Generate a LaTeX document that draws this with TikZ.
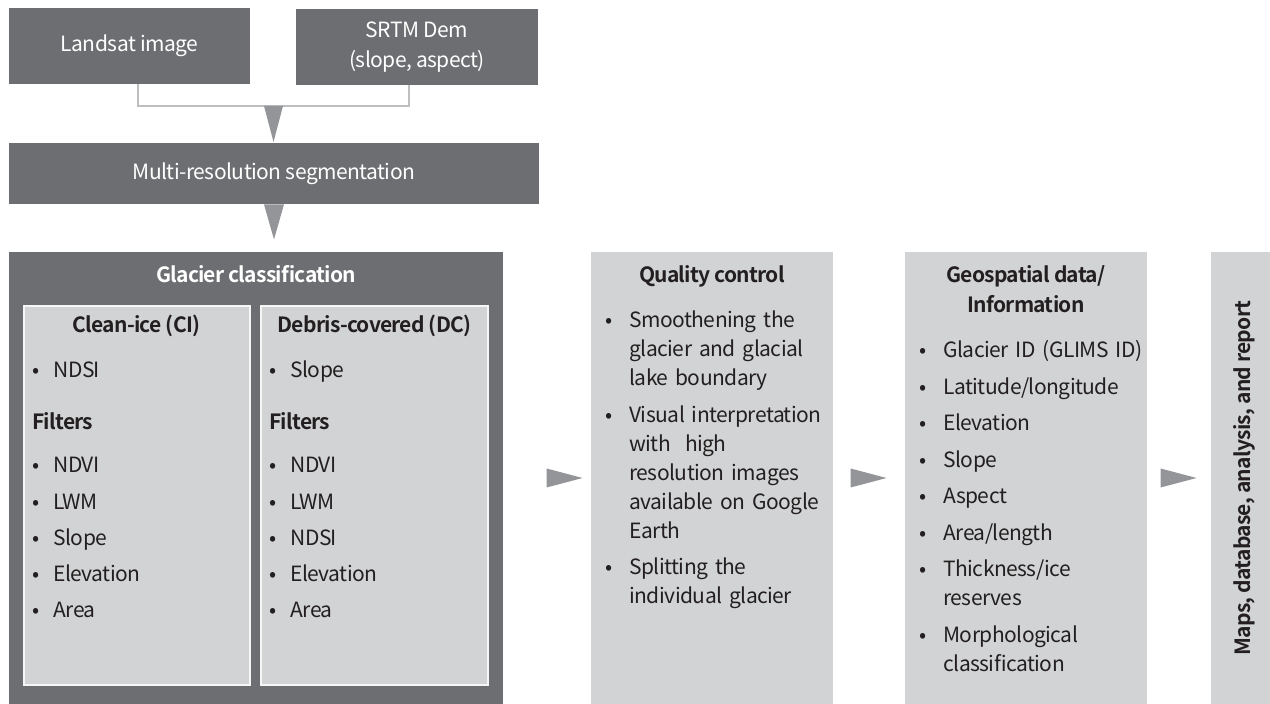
\documentclass[tikz,border=0pt]{standalone}
\usepackage{fontspec}
\setmainfont{Noto Sans CJK KR}[LetterSpace=-2.5, BoldFont={Noto Sans CJK KR Bold}, BoldFeatures={LetterSpace=-3.5}]
\usetikzlibrary{positioning,calc}

\definecolor{boxdark}{HTML}{6D6E71}
\definecolor{boxlight}{HTML}{D1D3D4}
\definecolor{tipgray}{HTML}{939598}
\definecolor{linkgray}{HTML}{BCBEC0}
\definecolor{inktext}{HTML}{231F20}

% bullet items with hanging indent
\newlength{\bulletwd}
\newlength{\itemgap}
\newcommand{\bfirst}[1]{\setlength{\parskip}{\itemgap}\hangindent=\bulletwd\hangafter=1\makebox[\bulletwd][l]{\textbullet}#1}
\newcommand{\bitem}[1]{\par\noindent\bfirst{#1}}
\newcommand{\listsetup}[1]{\setlength{\bulletwd}{#1}\setlength{\itemgap}{3.6pt}}

\begin{document}
\begin{tikzpicture}[x=0.5pt, y=-0.5pt, font=\fontsize{10.5}{14.5}\selectfont,
	darkbox/.style={fill=boxdark, text=white, inner sep=0pt, align=center},
	lightbox/.style={fill=boxlight, inner sep=0pt},
	subbox/.style={lightbox, draw=white!80!boxlight, line width=0.8pt},
	headtext/.style={font=\fontsize{10.5}{15}\selectfont\bfseries, anchor=base, inner sep=0pt, align=center, text=inktext},
	listtext/.style={anchor=base west, inner sep=0pt, text width=#1, align=left, text=inktext},
	tip/.style={fill=tipgray},
	bracket/.style={draw=linkgray, line width=1pt}]
	\useasboundingbox (0,0) rectangle (1270,704);

	% inputs
	\node[darkbox, minimum width=120.5pt, minimum height=38pt] (landsat) at (129.5,46) {Landsat image};
	\node[darkbox, minimum width=121pt, minimum height=38pt, font=\fontsize{10.5}{15}\selectfont] (srtm) at (417,47) {SRTM Dem\\(slope, aspect)};
	\node[darkbox, minimum width=265pt, minimum height=30.5pt] (segment) at (274,173.5) {Multi-resolution segmentation};

	\coordinate (join) at (273.5,106);
	\draw[bracket] ([xshift=4.25pt]landsat.south) |- (join) -| ([xshift=-4pt]srtm.south);
	\fill[tip] ([xshift=-4.75pt]join) -- ([xshift=4.75pt]join) -- ([yshift=-18pt]join) -- cycle;
	\fill[tip] ([xshift=-5pt]segment.south) -- ([xshift=5pt]segment.south) -- ([yshift=-17.5pt]segment.south) -- cycle;

	% classification
	\node[darkbox, minimum width=247pt, minimum height=226pt] (glacier) at (256,478) {};
	\node[headtext, text=white] (glaciertitle) at (256,283) {Glacier classification};
	\node[subbox, minimum width=113pt, minimum height=189.5pt] (cleanice) at (137,495.5) {};
	\node[subbox, minimum width=113.5pt, minimum height=189.5pt] (debris) at (374.5,495.5) {};
	\node[headtext] (cleanicetitle) at (136.5,333) {Clean-ice (CI)};
	\node[headtext] (debristitle) at (374.5,333) {Debris-covered (DC)};

	\node[listtext=100pt] (cleanicelist) at (32,378) {\listsetup{10.5pt}%
		\bfirst{NDSI}
		\par\vspace{7.9pt}\noindent\textbf{Filters}\par\vspace{3.4pt}
		\noindent\bfirst{NDVI}
		\bitem{LWM}
		\bitem{Slope}
		\bitem{Elevation}
		\bitem{Area}\par};
	\node[listtext=100pt] (debrislist) at (269,378) {\listsetup{10.5pt}%
		\bfirst{Slope}
		\par\vspace{7.9pt}\noindent\textbf{Filters}\par\vspace{3.4pt}
		\noindent\bfirst{NDVI}
		\bitem{LWM}
		\bitem{NDSI}
		\bitem{Elevation}
		\bitem{Area}\par};

	% quality control
	\node[lightbox, minimum width=121pt, minimum height=226pt] (quality) at (712,478) {};
	\node[headtext] (qualitytitle) at (712,283) {Quality control};
	\node[listtext=130pt] (qualitylist) at (605,328) {\listsetup{12pt}%
		\bfirst{Smoothening the\newline glacier and glacial\newline lake boundary}
		\bitem{Visual interpretation\newline with~ high\newline resolution images\newline available on Google\newline Earth}
		\bitem{Splitting the\newline individual glacier}\par};

	% geospatial output
	\node[lightbox, minimum width=121pt, minimum height=226pt] (geodata) at (1026,478) {};
	\node[headtext] (geotitle) at (1026,313) {Geospatial data/\\Information};
	\node[listtext=140pt] (geolist) at (919,358) {\listsetup{12pt}\setlength{\itemgap}{3.75pt}%
		\bfirst{Glacier ID (GLIMS ID)}
		\bitem{Latitude/longitude}
		\bitem{Elevation}
		\bitem{Slope}
		\bitem{Aspect}
		\bitem{Area/length}
		\bitem{Thickness/ice\newline reserves}
		\bitem{Morphological\newline classification}\par};

	% final products
	\node[lightbox, minimum width=29.5pt, minimum height=226pt] (maps) at (1240.5,478) {};
	\node[headtext, rotate=90] (mapstitle) at (1250,478) {Maps, database, analysis, and report};

	% flow arrows
	\fill[tip] ([xshift=-4pt]quality.west) -- ++(-36,-9.5) -- ++(0,19) -- cycle;
	\fill[tip] ([xshift=-9pt]geodata.west) -- ++(-36,-9.5) -- ++(0,19) -- cycle;
	\fill[tip] ([xshift=-7pt]maps.west) -- ++(-36,-9.5) -- ++(0,19) -- cycle;
\end{tikzpicture}
\end{document}
